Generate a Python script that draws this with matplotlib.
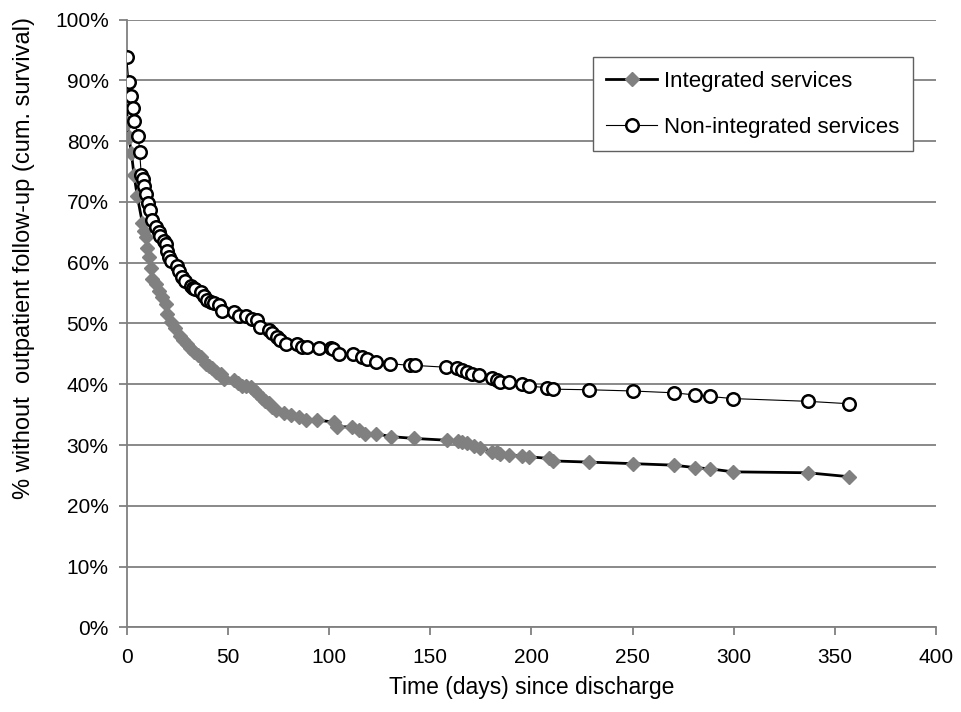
import matplotlib
matplotlib.use("Agg")
import matplotlib.pyplot as plt
from matplotlib.ticker import MultipleLocator, FuncFormatter

plt.rcParams['font.family'] = ['Liberation Sans', 'DejaVu Sans']

# Integrated services (days, % without follow-up)
int_days = [0, 0.3, 1.1, 2.3, 3.6, 5.2, 7.7, 8.5, 9.3, 10.2, 11, 11.8, 12.6, 14.3,
            16, 17.6, 19.2, 20, 21.7, 24, 26.4, 28, 29.9, 31.5, 33.2, 35, 36.5, 39,
            40.5, 42.3, 44, 46.4, 48, 53, 55, 57, 59, 61.2, 63, 64.5, 66.9, 68.5,
            70.3, 72, 73.6, 77.7, 81, 85, 88.4, 94.1, 102.4, 104, 111.4, 114.7,
            118, 123, 130.4, 141.9, 158.3, 163.7, 165.7, 168.2, 171.5, 174.5,
            180.6, 183, 184.7, 188.8, 195.4, 198.6, 208.5, 210.5, 228.6, 250,
            270.3, 280.8, 288.2, 299.6, 336.6, 357]
int_pct = [86.3, 83.0, 80.6, 78.1, 74.5, 71.0, 66.6, 65.2, 64.2, 62.5, 60.9, 59.2,
           57.3, 56.5, 55.4, 54.3, 53.2, 51.5, 50.2, 49.2, 48.0, 47.3, 46.7, 46.0,
           45.3, 44.9, 44.5, 43.4, 43.0, 42.6, 42.1, 41.75, 40.9, 40.7, 40.2, 39.8,
           39.7, 39.6, 39.0, 38.5, 37.7, 37.3, 36.9, 36.3, 35.7, 35.2, 34.9, 34.6,
           34.1, 34.1, 33.8, 33.0, 33.0, 32.5, 31.9, 31.9, 31.4, 31.1, 30.8, 30.7,
           30.5, 30.3, 29.9, 29.6, 28.9, 28.8, 28.5, 28.4, 28.2, 28.1, 27.8, 27.4,
           27.2, 26.95, 26.7, 26.3, 26.1, 25.6, 25.45, 24.8]

# Non-integrated services
non_days = [0, 1.1, 2, 3, 3.6, 5.8, 6.4, 7.2, 8, 8.5, 9.7, 10.7, 11.5, 12.6, 14.3,
            16, 16.7, 18.4, 19.2, 20, 20.9, 21.7, 25, 25.8, 27.5, 29, 31.6, 33, 34,
            36.5, 38, 39.8, 41.5, 43, 45.5, 47.2, 53, 55.6, 59, 62, 64.5, 66, 70.3,
            72, 74.4, 76, 78.5, 84.3, 86.7, 89, 95, 101, 102, 104.8, 112, 116.3,
            118.7, 123, 130, 140.2, 142.7, 158, 163.3, 165.7, 168.2, 170.7, 174,
            180.6, 183, 184.6, 188.8, 195.4, 198.6, 207.7, 210.5, 228.6, 250,
            270.3, 280.8, 288.2, 299.6, 336.6, 357]
non_pct = [93.8, 89.7, 87.5, 85.4, 83.3, 80.8, 78.2, 74.5, 73.7, 72.6, 71.3, 69.8,
           68.7, 67.0, 65.8, 65.0, 64.4, 63.6, 63.1, 62.0, 60.9, 60.3, 59.5, 58.7,
           57.6, 57.0, 56.2, 55.9, 55.7, 55.1, 54.5, 53.8, 53.6, 53.3, 53.0, 52.1,
           51.9, 51.3, 51.3, 50.8, 50.5, 49.4, 48.9, 48.4, 47.8, 47.3, 46.7, 46.7,
           46.1, 46.1, 45.9, 46.0, 45.8, 45.0, 45.0, 44.5, 44.1, 43.7, 43.4, 43.1,
           43.1, 42.8, 42.6, 42.4, 42.1, 41.75, 41.6, 41.0, 40.65, 40.4, 40.3, 40.1,
           39.7, 39.45, 39.2, 39.1, 38.9, 38.6, 38.25, 38.0, 37.65, 37.2, 36.8]

fig = plt.figure(figsize=(9.62, 7.12), dpi=100)
ax = fig.add_axes([0.1317, 0.1187, 0.8413, 0.8539])

ax.plot(int_days, int_pct, color='black', lw=2.0, marker='D', ms=7.5,
        mfc='#808080', mec='#808080', label='Integrated services', zorder=3)
ax.plot(non_days, non_pct, color='black', lw=0.8, marker='o', ms=9,
        mfc='white', mec='black', mew=1.8, label='Non-integrated services', zorder=4)

ax.set_xlim(0, 400)
ax.set_ylim(0, 100)
ax.xaxis.set_major_locator(MultipleLocator(50))
ax.yaxis.set_major_locator(MultipleLocator(10))
ax.yaxis.set_major_formatter(FuncFormatter(lambda v, p: f"{int(round(v))}%"))

ax.grid(axis='y', color='#808080', lw=1.3)
ax.set_axisbelow(True)
for s in ['top', 'right']:
    ax.spines[s].set_visible(False)
for s in ['left', 'bottom']:
    ax.spines[s].set_color('#808080')
    ax.spines[s].set_linewidth(1.3)
ax.tick_params(axis='both', direction='out', length=6, width=1.3, color='#808080',
               labelsize=15, labelcolor='black')
ax.tick_params(axis='y', pad=7)
ax.tick_params(axis='x', pad=9)

ax.set_xlabel('Time (days) since discharge', fontsize=16.5)
ax.set_ylabel('% without  outpatient follow-up (cum. survival)', fontsize=17)
ax.xaxis.set_label_coords(0.5, -0.079)
ax.yaxis.set_label_coords(-0.113, 0.608)

leg = ax.legend(loc='upper left', bbox_to_anchor=(0.576, 0.938), borderaxespad=0,
                fontsize=16, frameon=True, fancybox=False, edgecolor='#606060',
                framealpha=1, handlelength=2.3, borderpad=0.6, labelspacing=1.15,
                handletextpad=0.3)
leg.get_frame().set_linewidth(1.0)

fig.savefig('out.png', dpi=100)
